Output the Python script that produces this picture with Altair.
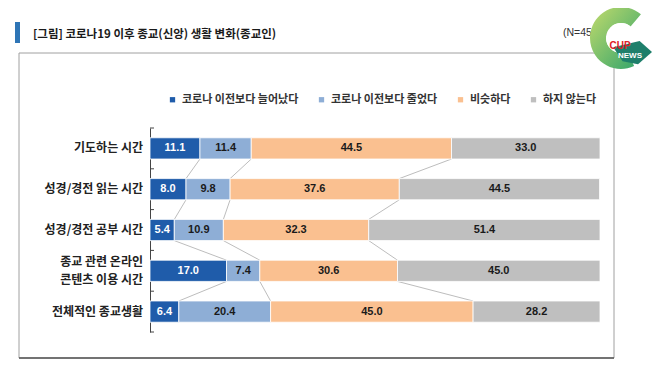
import altair as alt
import pandas as pd

# ---------------- data ----------------
categories = ["기도하는 시간", "성경/경전 읽는 시간", "성경/경전 공부 시간",
              "종교 관련 온라인\n콘텐츠 이용 시간", "전체적인 종교생활"]
series = ["코로나 이전보다 늘어났다", "코로나 이전보다 줄었다", "비슷하다", "하지 않는다"]
colors = ["#1F5CAA", "#8EAED6", "#FAC090", "#BFBFBF"]
increased = [11.1, 8.0, 5.4, 17.0, 6.4]
decreased = [11.4, 9.8, 10.9, 7.4, 20.4]
similar = [44.5, 37.6, 32.3, 30.6, 45.0]
not_doing = [33.0, 44.5, 51.4, 45.0, 28.2]
title_text = "[그림] 코로나19 이후 종교(신앙) 생활 변화(종교인)"
note_text = "(N=456, %)"

# ---------------- derived tables ----------------
PAD_IN, PAD_OUT = 0.48, 0.24
values = [increased, decreased, similar, not_doing]
rows = []
for ci, cat in enumerate(categories):
    cum = 0.0
    for si, s in enumerate(series):
        v = values[si][ci]
        rows.append(dict(cat=cat, series=s, order=si, value=v, start=cum, end=cum + v,
                         mid=cum + v / 2, label=f"{v:.1f}"))
        cum += v
df = pd.DataFrame(rows)

# connector lines: from bottom edge of band i to top edge of band i+1 (in band-step units)
conn = []
for ci in range(len(categories) - 1):
    ca = 0.0
    cb = 0.0
    for si in range(3):
        ca += values[si][ci]
        cb += values[si][ci + 1]
        cid = f"{ci}-{si}"
        conn.append(dict(cid=cid, pt=0, xv=ca, yv=PAD_OUT + ci + (1 - PAD_IN)))
        conn.append(dict(cid=cid, pt=1, xv=cb, yv=PAD_OUT + ci + 1))
conn_df = pd.DataFrame(conn)
N_STEPS = len(categories) - PAD_IN + 2 * PAD_OUT

cat_df = pd.DataFrame({"cat": categories})
last_df = pd.DataFrame({"cat": categories[-1:]})
one = pd.DataFrame({"k": [0]})

KFONT = "Noto Sans CJK KR"
yscale = alt.Scale(domain=categories, paddingInner=PAD_IN, paddingOuter=PAD_OUT)
xscale = alt.Scale(domain=[0, 100], nice=False)
STEP = 40.8

Y = alt.Y("cat:N", scale=yscale, sort=categories,
          axis=alt.Axis(title=None, ticks=False, labels=False, domain=True,
                        domainColor="#444"))
Yp = alt.Y("cat:N", scale=yscale, sort=categories)

bars = alt.Chart(df).mark_bar(stroke="white", strokeWidth=0.8).encode(
    x=alt.X("start:Q", scale=xscale, axis=None),
    x2="end:Q",
    y=Y,
    color=alt.Color("series:N", scale=alt.Scale(domain=series, range=colors),
                    legend=alt.Legend(title=None, orient="none", legendX=17, legendY=-34,
                                      direction="horizontal", symbolType="square",
                                      symbolSize=28, symbolStrokeWidth=0,
                                      labelFont=KFONT, labelFontSize=11,
                                      labelFontWeight="bold", labelColor="#333",
                                      labelOffset=4, columnPadding=17)),
    order="order:Q",
)

texts = alt.Chart(df).mark_text(font="Liberation Sans", fontSize=11, fontWeight="bold",
                                baseline="middle", align="center").encode(
    x=alt.X("mid:Q", scale=xscale),
    y=Yp,
    text="label:N",
    color=alt.condition("datum.order == 0", alt.value("#ffffff"), alt.value("#1a1a1a")),
)

lab_single = alt.Chart(cat_df).transform_filter(
    "indexof(datum.cat, '\\n') < 0"
).mark_text(align="right", baseline="middle", font=KFONT, fontSize=12,
            fontWeight="bold", color="#222").encode(
    y=Yp, x=alt.value(-7), text="cat:N")
lab_multi = alt.Chart(cat_df).transform_filter(
    "indexof(datum.cat, '\\n') >= 0"
).mark_text(align="right", baseline="middle", font=KFONT, fontSize=12,
            fontWeight="bold", color="#222", lineBreak="\n", lineHeight=18,
            dy=-9).encode(
    y=Yp, x=alt.value(-7), text="cat:N")

ticks_top = alt.Chart(cat_df).mark_rule(color="#444", strokeWidth=1, yOffset=-STEP / 2).encode(
    y=Yp, x=alt.value(0), x2=alt.value(4),
)
ticks_bot = alt.Chart(last_df).mark_rule(color="#444", strokeWidth=1, yOffset=STEP / 2).encode(
    y=Yp, x=alt.value(0), x2=alt.value(4),
)

frame = alt.Chart(one).mark_rect(fill="white", fillOpacity=0, stroke="#A0A0A0",
                                 strokeWidth=1).encode(
    x=alt.value(-131), x2=alt.value(464), y=alt.value(-75), y2=alt.value(230))
frame_bottom = alt.Chart(one).mark_rule(color="#555", strokeWidth=1.5).encode(
    x=alt.value(-131), x2=alt.value(464), y=alt.value(230))

title_bar = alt.Chart(one).mark_rect(fill="#2E75B6").encode(
    x=alt.value(-135), x2=alt.value(-130), y=alt.value(-106), y2=alt.value(-85))
title = alt.Chart(one).mark_text(text=title_text, font=KFONT, fontSize=11.5,
                                 fontWeight="bold", align="left", baseline="middle",
                                 color="#1a1a1a").encode(
    x=alt.value(-117), y=alt.value(-93))
note = alt.Chart(one).mark_text(text=note_text, font="Liberation Sans", fontSize=10.5,
                                align="left", baseline="middle", color="#333").encode(
    x=alt.value(413), y=alt.value(-95))

# decorative logo (symbol paths)
C_PATH = ("M 0.643 -0.766 A 1 1 0 1 0 0.423 0.906 L 0.203 0.435 "
          "A 0.48 0.48 0 1 1 0.309 -0.368 Z")
TEAL_PATH = "M -0.25 0.3 L 0.6 0.1 L 1.0 0.45 L 0.55 0.85 L 0.05 0.75 Z"
logo_c = alt.Chart(one).mark_point(
    shape=C_PATH, size=3844, filled=True, strokeWidth=0, opacity=1,
    fill=alt.Gradient(gradient="linear",
                      stops=[alt.GradientStop(color="#C3DB6C", offset=0),
                             alt.GradientStop(color="#2FA36B", offset=1)],
                      x1=0, y1=0, x2=1, y2=1)).encode(x=alt.value(471), y=alt.value(-90))
logo_inner = alt.Chart(one).mark_point(shape="circle", size=900, filled=True,
                                       fill="white", strokeWidth=0, opacity=1).encode(
    x=alt.value(471), y=alt.value(-90))
logo_teal = alt.Chart(one).mark_point(shape=TEAL_PATH, size=3844, filled=True,
                                      fill="#1E7F6B", strokeWidth=0, opacity=1).encode(
    x=alt.value(471), y=alt.value(-90))
cup = alt.Chart(one).mark_text(text="CUP", font="Liberation Sans", fontSize=10,
                               fontWeight="bold", color="#E02027").encode(
    x=alt.value(470), y=alt.value(-82))
news = alt.Chart(one).mark_text(text="NEWS", font="Liberation Sans", fontSize=8,
                                fontWeight="bold", color="white").encode(
    x=alt.value(480), y=alt.value(-72))

connectors = alt.Chart(conn_df).mark_line(color="#BDBDBD", strokeWidth=1).encode(
    x=alt.X("xv:Q", scale=xscale, axis=None),
    y=alt.Y("yv:Q", scale=alt.Scale(domain=[0, N_STEPS], reverse=True, nice=False,
                                    zero=False), axis=None),
    detail="cid:N",
    order="pt:Q",
)

main = alt.layer(
    frame, frame_bottom, title_bar, title, note,
    bars, texts, lab_single, lab_multi, ticks_top, ticks_bot,
    logo_c, logo_inner, logo_teal, cup, news,
)

chart = alt.layer(connectors, main).resolve_scale(y="independent").properties(
    width=450, height=204,
    autosize=alt.AutoSizeParams(type="none"),
    padding={"left": 142, "top": 120, "right": 52, "bottom": 38},
).configure_view(stroke=None)

chart.save("out.html", embed_options={"renderer": "svg", "actions": False})
